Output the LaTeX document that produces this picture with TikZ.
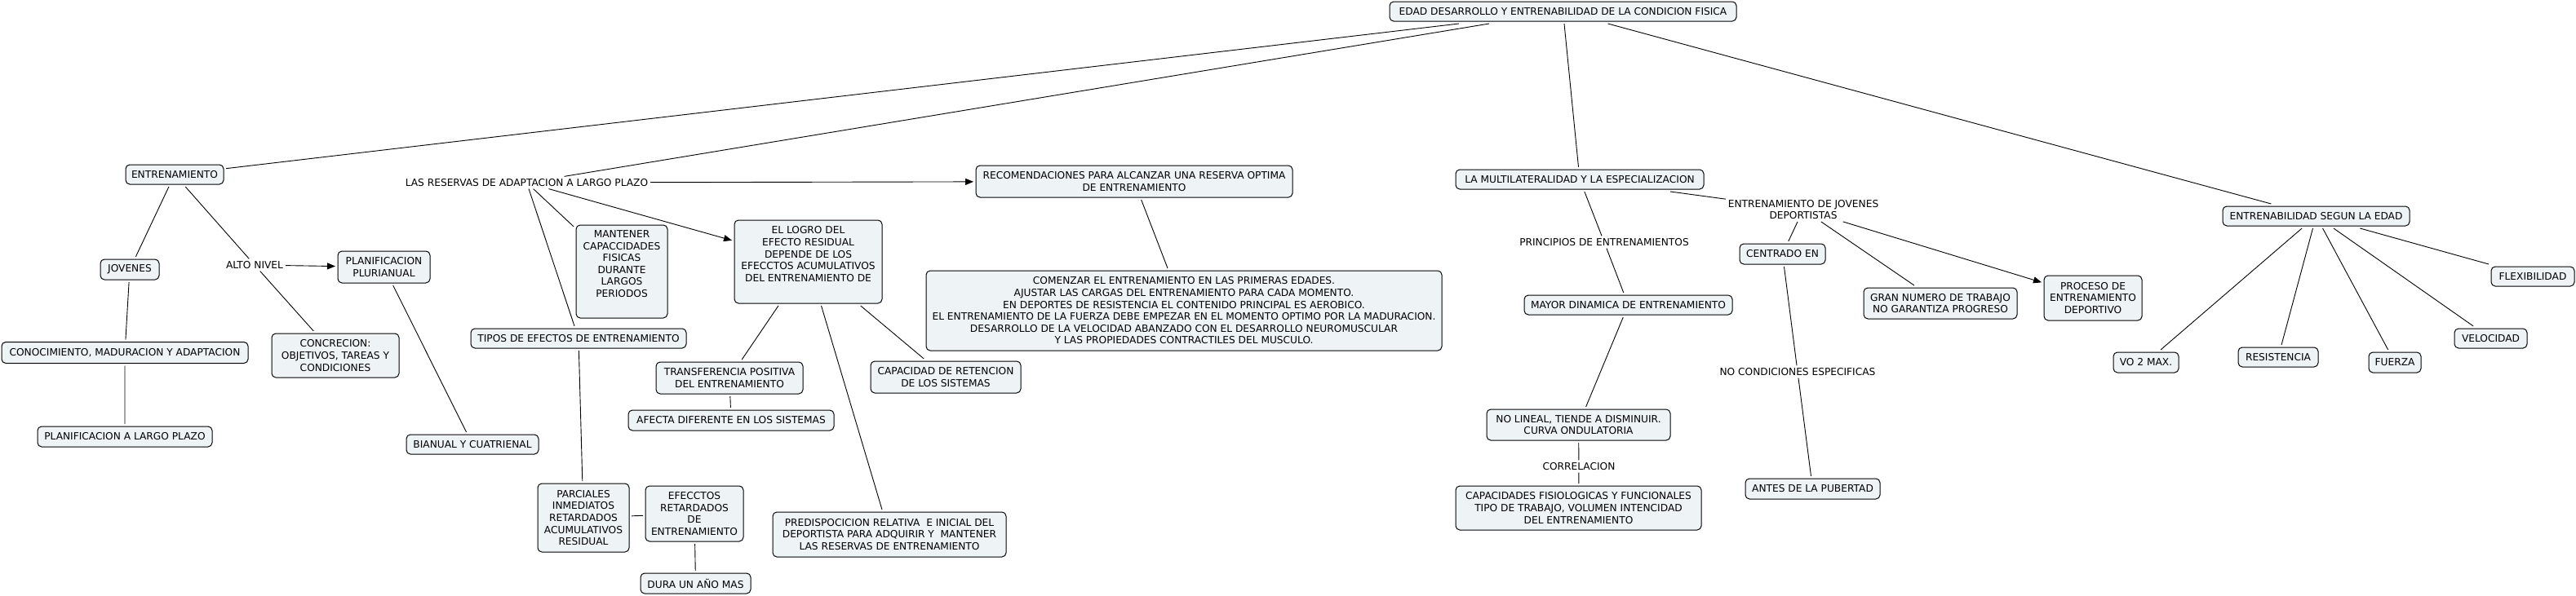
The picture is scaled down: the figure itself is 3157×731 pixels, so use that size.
\documentclass[tikz,border=0pt]{standalone}
\usepackage{fontspec}
\setmainfont{DejaVu Sans}
\usetikzlibrary{arrows.meta}
\definecolor{cmapfill}{RGB}{238,243,246}

\begin{document}
\begin{tikzpicture}[x=1pt,y=-1pt,
  cbox/.style={draw,line width=1pt,rounded corners=5pt,fill=cmapfill,align=center,
    inner sep=2pt,outer sep=3pt,font=\fontsize{12.2}{14.6}\selectfont},
  lphrase/.style={align=center,inner sep=2pt,outer sep=1pt,font=\fontsize{12.2}{14.6}\selectfont},
  link/.style={line width=0.9pt},
  arrowlink/.style={link,-{Triangle[length=10pt,width=8pt]}}]
\useasboundingbox (0,0) rectangle (3157,731);
% top concept
\node[cbox,minimum width=425,minimum height=24](edad)at(1915.5,14){EDAD DESARROLLO Y ENTRENABILIDAD DE LA CONDICION FISICA};
% left branch
\node[cbox,minimum width=120,minimum height=24](entr)at(214,214){ENTRENAMIENTO};
\node[cbox,minimum width=72,minimum height=25](jov)at(159,330.5){JOVENES};
\node[cbox,minimum width=302,minimum height=26](conoc)at(153,432.5){CONOCIMIENTO, MADURACION Y ADAPTACION};
\node[cbox,minimum width=214,minimum height=25](plargo)at(153,535.5){PLANIFICACION A LARGO PLAZO};
\node[lphrase](alto)at(312,325){ALTO NIVEL};
\node[cbox,minimum width=113,minimum height=39](pluri)at(470.5,327.5){PLANIFICACION\\PLURIANUAL};
\node[cbox,minimum width=156,minimum height=54](concr)at(411,436){CONCRECION:\\OBJETIVOS, TAREAS Y\\CONDICIONES};
\node[cbox,minimum width=162,minimum height=24](bianual)at(579,545){BIANUAL Y CUATRIENAL};
% reserves
\node[lphrase](reserv)at(645.5,224){LAS RESERVAS DE ADAPTACION A LARGO PLAZO};
\node[cbox,minimum width=112,minimum height=114](mant)at(762,333){MANTENER\\CAPACCIDADES\\FISICAS\\DURANTE\\LARGOS\\PERIODOS\\\strut};
\node[cbox,minimum width=264,minimum height=24](tipos)at(709,415){TIPOS DE EFECTOS DE ENTRENAMIENTO};
\node[cbox,minimum width=112,minimum height=84](parc)at(715,635){PARCIALES\\INMEDIATOS\\RETARDADOS\\ACUMULATIVOS\\RESIDUAL};
\node[cbox,minimum width=120,minimum height=68](efec)at(851,630){EFECCTOS\\RETARDADOS\\DE\\ENTRENAMIENTO};
\node[cbox,minimum width=135,minimum height=25](dura)at(852.5,715.5){DURA UN AÑO MAS};
\node[cbox,minimum width=181,minimum height=102](logro)at(990.5,321){EL LOGRO DEL\\EFECTO RESIDUAL\\DEPENDE DE LOS\\EFECCTOS ACUMULATIVOS\\DEL ENTRENAMIENTO DE\\\strut};
\node[cbox,minimum width=180,minimum height=39](transf)at(894,463.5){TRANSFERENCIA POSITIVA\\DEL ENTRENAMIENTO};
\node[cbox,minimum width=252,minimum height=25](afecta)at(896,515.5){AFECTA DIFERENTE EN LOS SISTEMAS};
\node[cbox,minimum width=184,minimum height=39](capret)at(1159,462.5){CAPACIDAD DE RETENCION\\DE LOS SISTEMAS};
\node[cbox,minimum width=286,minimum height=55](predisp)at(1090,655.5){PREDISPOCICION RELATIVA~ E INICIAL DEL\\DEPORTISTA PARA ADQUIRIR Y~ MANTENER\\LAS RESERVAS DE ENTRENAMIENTO};
\node[cbox,minimum width=388,minimum height=39](recom)at(1390,222.5){RECOMENDACIONES PARA ALCANZAR UNA RESERVA OPTIMA\\DE ENTRENAMIENTO};
\node[cbox,minimum width=632,minimum height=98](comenz)at(1451,381){COMENZAR EL ENTRENAMIENTO EN LAS PRIMERAS EDADES.\\
  AJUSTAR LAS CARGAS DEL ENTRENAMIENTO PARA CADA MOMENTO.\\
  EN DEPORTES DE RESISTENCIA EL CONTENIDO PRINCIPAL ES AEROBICO.\\
  EL ENTRENAMIENTO DE LA FUERZA DEBE EMPEZAR EN EL MOMENTO OPTIMO POR LA MADURACION.\\
  DESARROLLO DE LA VELOCIDAD ABANZADO CON EL DESARROLLO NEUROMUSCULAR\\
  Y LAS PROPIEDADES CONTRACTILES DEL MUSCULO.};
% multilateralidad
\node[cbox,minimum width=304,minimum height=24](multi)at(1936,220){LA MULTILATERALIDAD Y LA ESPECIALIZACION};
\node[lphrase](princ)at(1966,297){PRINCIPIOS DE ENTRENAMIENTOS};
\node[cbox,minimum width=255,minimum height=24](mayor)at(1995.5,374){MAYOR DINAMICA DE ENTRENAMIENTO};
\node[cbox,minimum width=225,minimum height=38](nolin)at(1934.5,521){NO LINEAL, TIENDE A DISMINUIR.\\CURVA ONDULATORIA};
\node[lphrase](correl)at(1935,572){CORRELACION};
\node[cbox,minimum width=301,minimum height=54](capfis)at(1934.5,623){CAPACIDADES FISIOLOGICAS Y FUNCIONALES\\TIPO DE TRABAJO, VOLUMEN INTENCIDAD\\DEL ENTRENAMIENTO};
\node[lphrase](jovdep)at(2210,257){ENTRENAMIENTO DE JOVENES\\DEPORTISTAS};
\node[cbox,minimum width=105,minimum height=25](centr)at(2184.5,311.5){CENTRADO EN};
\node[lphrase](nocond)at(2203,456){NO CONDICIONES ESPECIFICAS};
\node[cbox,minimum width=165,minimum height=25](antes)at(2221.5,599.5){ANTES DE LA PUBERTAD};
\node[cbox,minimum width=188,minimum height=38](gran)at(2378,372){GRAN NUMERO DE TRABAJO\\NO GARANTIZA PROGRESO};
\node[cbox,minimum width=120,minimum height=55](proceso)at(2565,365.5){PROCESO DE\\ENTRENAMIENTO\\DEPORTIVO};
% entrenabilidad
\node[cbox,minimum width=229,minimum height=24](entrenab)at(2838.5,265){ENTRENABILIDAD SEGUN LA EDAD};
\node[cbox,minimum width=80,minimum height=25](vo)at(2630,444.5){VO 2 MAX.};
\node[cbox,minimum width=98,minimum height=24](resist)at(2792,438){RESISTENCIA};
\node[cbox,minimum width=64,minimum height=25](fuerza)at(2935,444.5){FUERZA};
\node[cbox,minimum width=89,minimum height=24](veloc)at(3052.5,415){VELOCIDAD};
\node[cbox,minimum width=102,minimum height=24](flex)at(3104,339){FLEXIBILIDAD};
% connectors
\draw[link](edad)--(entr)(edad)--(reserv)(edad)--(multi)(edad)--(entrenab);
\draw[link](entr)--(jov)(jov)--(conoc)(conoc)--(plargo)(entr)--(alto)(alto)--(concr)(pluri)--(bianual);
\draw[arrowlink](alto)--(pluri);
\draw[link](reserv)--(mant)(reserv)--(tipos)(tipos)--(parc)(parc)--(efec)(efec)--(dura);
\draw[arrowlink](reserv)--(recom);
\draw[arrowlink](reserv)--(logro);
\draw[link](logro)--(transf)(transf)--(afecta)(logro)--(predisp)(logro)--(capret)(recom)--(comenz);
\draw[link](multi)--(princ)(princ)--(mayor)(mayor)--(nolin)(nolin)--(correl)(correl)--(capfis);
\draw[link](multi)--(jovdep)(jovdep)--(centr)(centr)--(nocond)(nocond)--(antes)(jovdep)--(gran);
\draw[arrowlink](jovdep)--(proceso);
\draw[link](entrenab)--(vo)(entrenab)--(resist)(entrenab)--(fuerza)(entrenab)--(veloc)(entrenab)--(flex);
\end{tikzpicture}
\end{document}
